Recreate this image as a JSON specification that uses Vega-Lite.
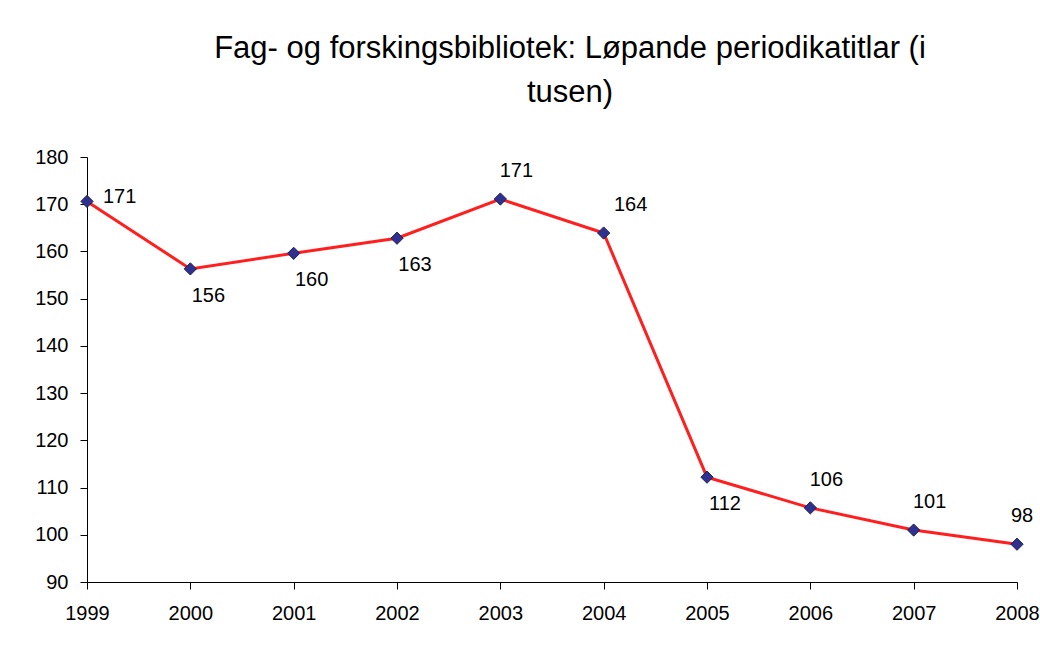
{
  "$schema": "https://vega.github.io/schema/vega-lite/v6.json",
  "autosize": {"type": "none"},
  "width": 930,
  "height": 425,
  "padding": {"left": 87, "top": 157, "right": 23, "bottom": 87},
  "background": "white",
  "title": {
    "text": ["Fag- og forskingsbibliotek: Løpande periodikatitlar (i", "tusen)"],
    "font": "Liberation Sans",
    "fontSize": 31,
    "fontWeight": "normal",
    "color": "black",
    "lineHeight": 44,
    "anchor": "middle",
    "dx": 18,
    "offset": 38
  },
  "config": {
    "view": {"stroke": null},
    "axis": {
      "labelFont": "Liberation Sans",
      "labelFontSize": 20,
      "labelColor": "black",
      "domainColor": "black",
      "tickColor": "black",
      "grid": false,
      "tickSize": 7,
      "title": null
    }
  },
  "data": {
    "values": [
      {"year": "1999", "value": 170.6},
      {"year": "2000", "value": 156.3},
      {"year": "2001", "value": 159.6},
      {"year": "2002", "value": 162.8},
      {"year": "2003", "value": 171.1},
      {"year": "2004", "value": 163.9},
      {"year": "2005", "value": 112.2},
      {"year": "2006", "value": 105.7},
      {"year": "2007", "value": 101.0},
      {"year": "2008", "value": 98.0}
    ]
  },
  "encoding": {
    "x": {"field": "year", "type": "ordinal", "scale": {"type": "point", "padding": 0}, "axis": {"labelAngle": 0, "labelPadding": 14}},
    "y": {"field": "value", "type": "quantitative", "scale": {"domain": [90, 180], "nice": false, "zero": false}, "axis": {"values": [90, 100, 110, 120, 130, 140, 150, 160, 170, 180], "labelPadding": 12}}
  },
  "layer": [
    {"mark": {"type": "line", "color": "#FF1F1F", "strokeWidth": 3}},
    {"mark": {"type": "point", "shape": "diamond", "filled": true, "fill": "#2E3192", "stroke": "#222244", "strokeWidth": 1, "size": 150, "opacity": 1}},
    {
      "transform": [{"filter": "datum.year == '1999'"}],
      "mark": {"type": "text", "font": "Liberation Sans", "fontSize": 20, "color": "black", "align": "left", "baseline": "middle", "dx": 16, "dy": -4},
      "encoding": {"text": {"field": "value", "type": "quantitative", "format": ".0f"}}
    },
    {
      "transform": [{"filter": "indexof(['2000','2001','2002','2005'], datum.year) >= 0"}],
      "mark": {"type": "text", "font": "Liberation Sans", "fontSize": 20, "color": "black", "align": "center", "baseline": "middle", "dx": 18, "dy": 27},
      "encoding": {"text": {"field": "value", "type": "quantitative", "format": ".0f"}}
    },
    {
      "transform": [{"filter": "indexof(['2003','2006','2007'], datum.year) >= 0"}],
      "mark": {"type": "text", "font": "Liberation Sans", "fontSize": 20, "color": "black", "align": "center", "baseline": "middle", "dx": 16, "dy": -28},
      "encoding": {"text": {"field": "value", "type": "quantitative", "format": ".0f"}}
    },
    {
      "transform": [{"filter": "datum.year == '2004'"}],
      "mark": {"type": "text", "font": "Liberation Sans", "fontSize": 20, "color": "black", "align": "center", "baseline": "middle", "dx": 27, "dy": -28},
      "encoding": {"text": {"field": "value", "type": "quantitative", "format": ".0f"}}
    },
    {
      "transform": [{"filter": "datum.year == '2008'"}],
      "mark": {"type": "text", "font": "Liberation Sans", "fontSize": 20, "color": "black", "align": "center", "baseline": "middle", "dx": 5, "dy": -28},
      "encoding": {"text": {"field": "value", "type": "quantitative", "format": ".0f"}}
    }
  ]
}
